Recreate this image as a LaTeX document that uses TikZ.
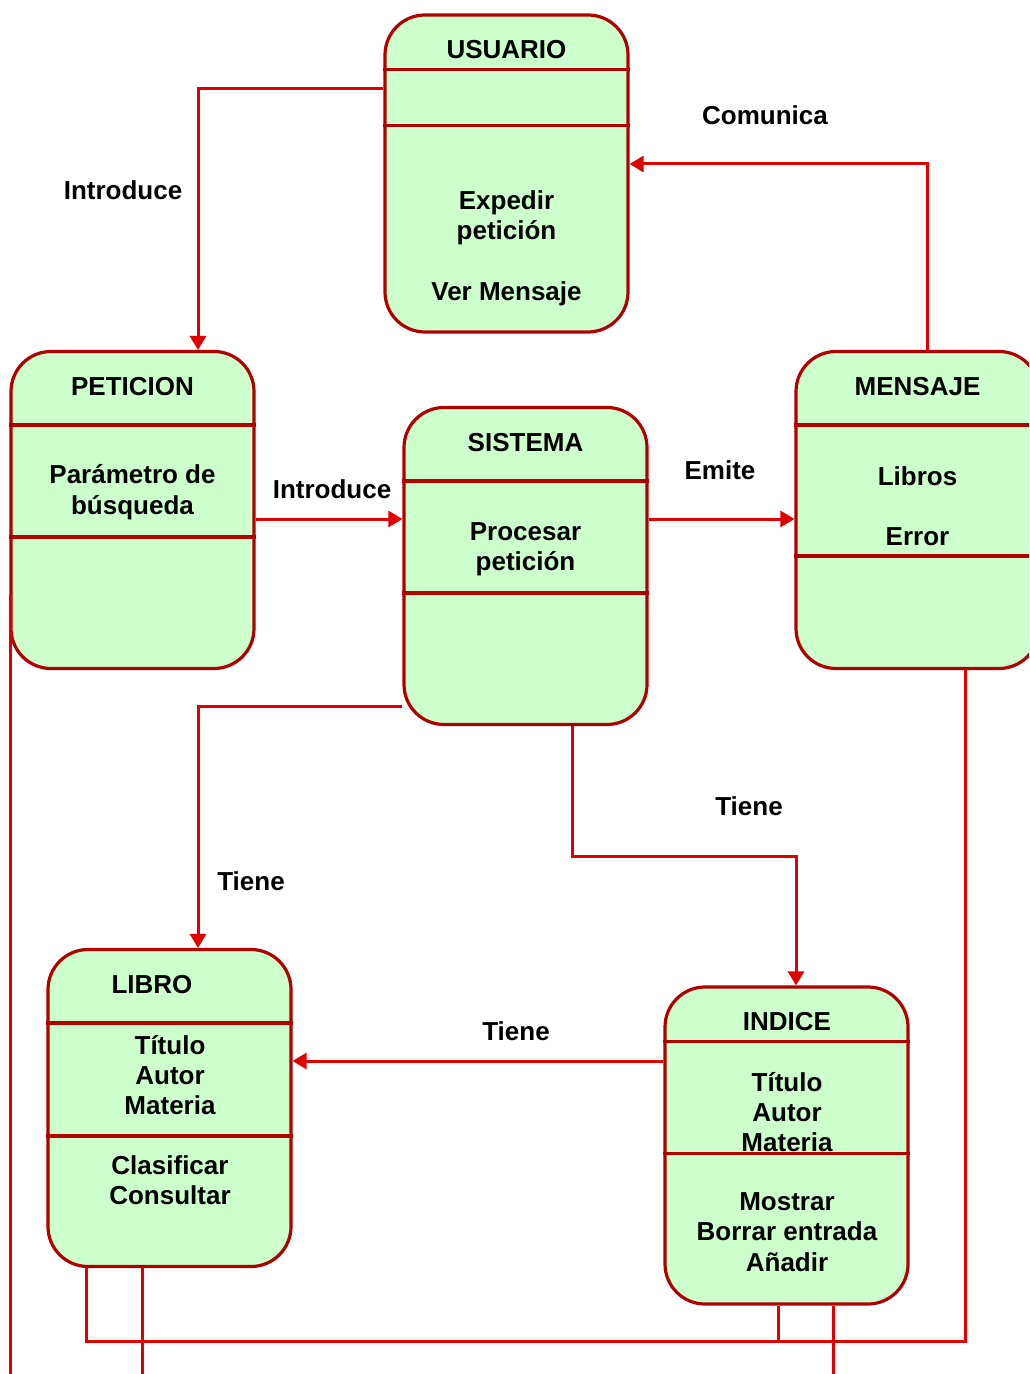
\documentclass[tikz,border=0pt]{standalone}
\usepackage{fontspec}
\setmainfont{Liberation Sans}
\usetikzlibrary{arrows.meta,positioning,calc}
\definecolor{boxfill}{HTML}{CCFFCC}
\definecolor{boxline}{HTML}{B00000}
\definecolor{linkred}{HTML}{E00000}

\begin{document}
\begin{tikzpicture}[x=0.5pt,y=-0.5pt,>={Triangle[length=7pt,width=8pt]},
cls/.style={draw=boxline,fill=boxfill,line width=1.6pt,rounded corners=20pt,minimum width=121.5pt,minimum height=158.5pt},
sep/.style={draw=boxline,line width=1.6pt},
txt/.style={font=\bfseries\fontsize{13}{15.2}\selectfont,align=center,inner sep=0pt},
lnk/.style={draw=linkred,line width=1.5pt},
arr/.style={lnk,->}]
\useasboundingbox (0,0) rectangle (1029,1374);
\clip (0,0) rectangle (1029,1374);

% classes
\node[cls] (usuario) at (506.5,173.5) {};
\node[cls] (peticion) at (132.5,510) {};
\node[cls] (sistema) at (525.5,566) {};
\node[cls] (mensaje) at (917.5,510) {};
\node[cls] (libro) at (169.5,1108) {};
\node[cls] (indice) at (786.5,1145.5) {};

% compartments
\draw[sep] ([yshift=-28pt]usuario.north west) -- ([yshift=-28pt]usuario.north east);
\draw[sep] ([yshift=-56pt]usuario.north west) -- ([yshift=-56pt]usuario.north east);
\draw[sep] ([yshift=-37.5pt]peticion.north west) -- ([yshift=-37.5pt]peticion.north east);
\draw[sep] ([yshift=-93.5pt]peticion.north west) -- ([yshift=-93.5pt]peticion.north east);
\draw[sep] ([yshift=-37.5pt]sistema.north west) -- ([yshift=-37.5pt]sistema.north east);
\draw[sep] ([yshift=-93.5pt]sistema.north west) -- ([yshift=-93.5pt]sistema.north east);
\draw[sep] ([yshift=-37.5pt]mensaje.north west) -- ([yshift=-37.5pt]mensaje.north east);
\draw[sep] ([yshift=-103pt]mensaje.north west) -- ([yshift=-103pt]mensaje.north east);
\draw[sep] ([yshift=-37.5pt]libro.north west) -- ([yshift=-37.5pt]libro.north east);
\draw[sep] ([yshift=-94pt]libro.north west) -- ([yshift=-94pt]libro.north east);
\draw[sep] ([yshift=-28pt]indice.north west) -- ([yshift=-28pt]indice.north east);
\draw[sep] ([yshift=-84pt]indice.north west) -- ([yshift=-84pt]indice.north east);

% texts
\node[txt] (usuarioT) at (506.5,50) {USUARIO};
\node[txt] (usuarioM) at (506.5,248) {Expedir\\petición\\[15pt]Ver Mensaje};
\node[txt] (peticionT) at (132.5,387) {PETICION};
\node[txt] (peticionA) at (132.5,492) {Parámetro de\\búsqueda};
\node[txt] (sistemaT) at (525.5,443) {SISTEMA};
\node[txt] (sistemaM) at (525.5,549) {Procesar\\petición};
\node[txt] (mensajeT) at (917.5,387) {MENSAJE};
\node[txt] (mensajeA) at (917.5,506) {Libros\\[15pt]Error};
\node[txt] (libroT) at (152,985) {LIBRO};
\node[txt] (libroA) at (170,1075) {Título\\Autor\\Materia};
\node[txt] (libroM) at (170,1180) {Clasificar\\Consultar};
\node[txt] (indiceT) at (787,1022) {INDICE};
\node[txt] (indiceA) at (787,1112) {Título\\Autor\\Materia};
\node[txt] (indiceM) at (787,1232) {Mostrar\\Borrar entrada\\Añadir};

% relations
\draw[arr] ([yshift=42.25pt]usuario.west) -| ([xshift=32.75pt]peticion.north);
\draw[arr] ([xshift=4.75pt]mensaje.north) |- ([yshift=4.75pt]usuario.east);
\draw[arr] ([yshift=-4.5pt]peticion.east) -- ([yshift=-4.5pt]peticion.east -| sistema.west);
\draw[arr] ([yshift=23.5pt]sistema.east) -- ([yshift=23.5pt]sistema.east -| mensaje.west);
\draw[arr] ([yshift=-70pt]sistema.west) -| ([xshift=14.25pt]libro.north);
\draw[arr] ([xshift=23.25pt]sistema.south) -- ++(0,130) -| ([xshift=4.75pt]indice.north);
\draw[arr] ([yshift=42.25pt]indice.west) -- ([yshift=42.25pt]indice.west -| libro.east);

% lines leaving the page
\coordinate (bus) at (500,1341);
\draw[lnk] ([xshift=-41.75pt]libro.south) |- (bus) -| ([xshift=23.75pt]mensaje.south);
\draw[lnk] ([xshift=-4.25pt]indice.south) -- ++(0,37);
\draw[lnk] ([xshift=23.25pt]indice.south) -- ++(0,75);
\draw[lnk] ([xshift=-13.75pt]libro.south) -- ++(0,112);
\draw[lnk] ([xshift=0.5pt,yshift=-42.5pt]peticion.west) -- ++(0,785);

% labels
\node[txt] (lblIntro) at (123,190) {Introduce};
\node[txt] (lblComunica) at (765,115) {Comunica};
\node[txt] (lblIntro2) at (332,489) {Introduce};
\node[txt] (lblEmite) at (720,470) {Emite};
\node[txt] (lblTiene) at (251,881) {Tiene};
\node[txt] (lblTiene2) at (749,806) {Tiene};
\node[txt] (lblTiene3) at (516,1031) {Tiene};
\end{tikzpicture}
\end{document}
